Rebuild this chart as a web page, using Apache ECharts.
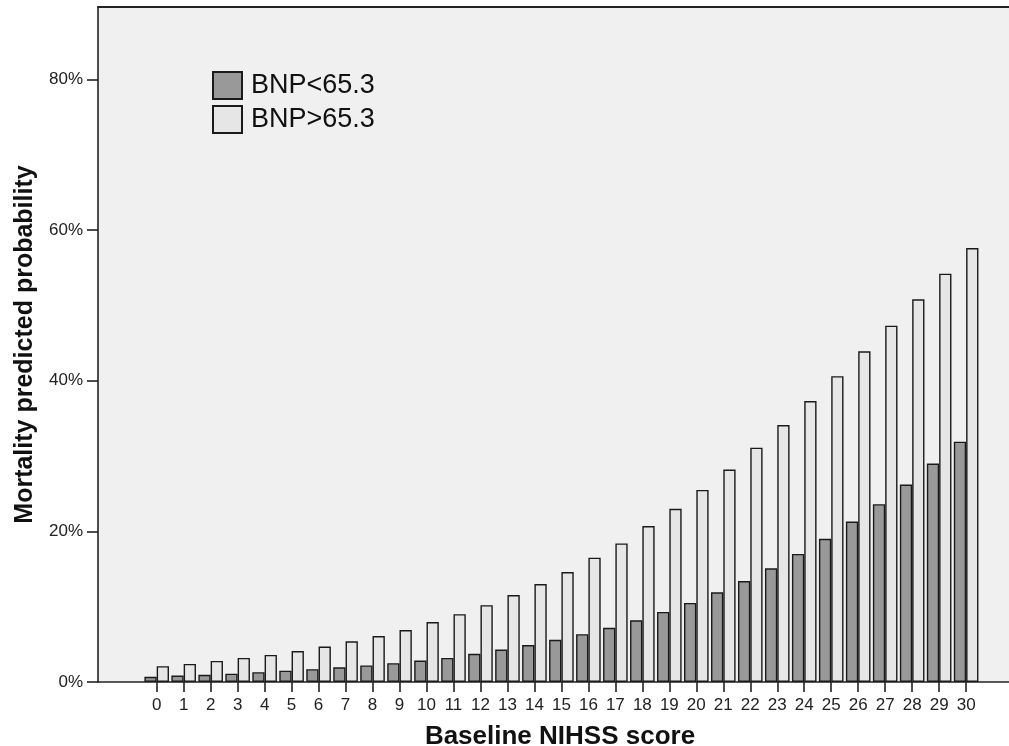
<!DOCTYPE html>
<html>
<head>
<meta charset="utf-8">
<script src="https://cdn.jsdelivr.net/npm/echarts@6/dist/echarts.min.js"></script>
<style>
html,body{margin:0;padding:0;background:#fff;}
#chart{width:1009px;height:746px;}
</style>
</head>
<body>
<div id="chart"></div>
<script>
// NIHSS scores (categories)
const categories = [0,1,2,3,4,5,6,7,8,9,10,11,12,13,14,15,16,17,18,19,20,21,22,23,24,25,26,27,28,29,30];
// Mortality predicted probability (%)
const bnpLow = [0.7,0.85,0.95,1.1,1.3,1.5,1.7,1.95,2.2,2.5,2.85,3.2,3.75,4.3,4.9,5.6,6.35,7.2,8.2,9.3,10.5,11.9,13.4,15.1,17.0,19.0,21.3,23.6,26.2,29.0,31.9];
const bnpHigh = [2.1,2.4,2.8,3.2,3.6,4.1,4.7,5.4,6.1,6.9,7.95,9.0,10.2,11.55,13.0,14.6,16.5,18.4,20.7,23.0,25.5,28.2,31.1,34.1,37.3,40.6,43.9,47.3,50.8,54.2,57.6];
const yTicks = [0,20,40,60,80];
const seriesNames = ['BNP<65.3','BNP>65.3'];

const FONT = "'Liberation Sans', Arial, sans-serif";
const chart = echarts.init(document.getElementById('chart'), null, {renderer:'canvas'});

const X_MIN = -2.175, X_MAX = 31.7;

const option = {
  animation: false,
  backgroundColor: '#ffffff',
  textStyle: {fontFamily: FONT},
  grid: {
    left: 98, top: 7, right: -3, bottom: 64,
    show: true, backgroundColor: '#f0f0f0',
    borderWidth: 0,
    containLabel: false,
    outerBoundsMode: 'none'
  },
  legend: {
    orient: 'vertical',
    left: 212, top: 71,
    padding: 0,
    itemWidth: 29, itemHeight: 27, itemGap: 5,
    icon: 'rect',
    data: seriesNames,
    textStyle: {fontFamily: FONT, fontSize: 27, color: '#111', padding: [0,0,0,4]}
  },
  xAxis: [{
    type: 'value',
    min: X_MIN, max: X_MAX,
    name: 'Baseline NIHSS score',
    nameLocation: 'middle',
    nameGap: 42,
    nameTextStyle: {fontFamily: FONT, fontSize: 26, fontWeight: 'bold', color: '#111', padding: [0,0,0,10]},
    axisLine: {show: true, onZero: false, lineStyle: {color: '#222', width: 1.6}},
    axisTick: {show: true, length: 10, customValues: categories, lineStyle: {color: '#222', width: 1.6}},
    axisLabel: {customValues: categories, fontSize: 17, color: '#222', margin: 15, fontFamily: FONT,
                formatter: v => String(v)},
    splitLine: {show: false}
  }, {
    type: 'value',
    position: 'top',
    min: X_MIN, max: X_MAX,
    axisLine: {show: true, onZero: false, lineStyle: {color: '#222', width: 2}},
    axisTick: {show: false},
    axisLabel: {show: false},
    splitLine: {show: false}
  }],
  yAxis: {
    type: 'value',
    min: 0, max: 89.6,
    interval: 20,
    name: 'Mortality predicted probability',
    nameLocation: 'middle',
    nameGap: 56,
    nameTextStyle: {fontFamily: FONT, fontSize: 25, fontWeight: 'bold', color: '#111'},
    axisLine: {show: true, onZero: false, lineStyle: {color: '#222', width: 1.6}},
    axisTick: {show: true, length: 11, customValues: yTicks, lineStyle: {color: '#222', width: 1.6}},
    axisLabel: {customValues: yTicks, fontSize: 17, color: '#222', margin: 15, fontFamily: FONT,
                formatter: v => v + '%'},
    splitLine: {show: false}
  },
  series: [
    {
      name: seriesNames[0], type: 'bar',
      xAxisIndex: 0,
      barWidth: 12.3, barGap: '0%',
      itemStyle: {color: '#999999', borderColor: '#1a1a1a', borderWidth: 1.4},
      data: categories.map((c, i) => [c, bnpLow[i]])
    },
    {
      name: seriesNames[1], type: 'bar',
      xAxisIndex: 0,
      barWidth: 12.3, barGap: '0%',
      itemStyle: {color: '#e6e6e6', borderColor: '#1a1a1a', borderWidth: 1.4},
      data: categories.map((c, i) => [c, bnpHigh[i]])
    }
  ]
};
chart.setOption(option);
</script>
</body>
</html>
